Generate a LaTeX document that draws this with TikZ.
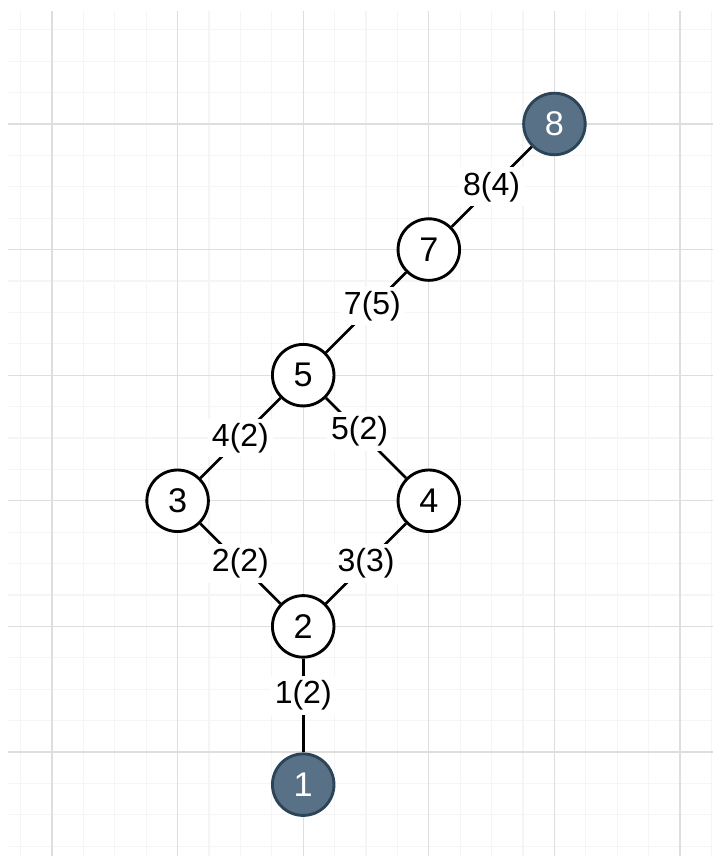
\documentclass[tikz,border=0pt]{standalone}
\usepackage{fontspec}
\setmainfont{Liberation Sans}
\usepackage{tikz}
\usetikzlibrary{positioning}
\definecolor{gridmajor}{RGB}{222,222,222}
\definecolor{gridminor}{RGB}{245,245,245}
\definecolor{slatefill}{RGB}{88,113,135}
\definecolor{slatedraw}{RGB}{44,68,88}

\begin{document}
\begin{tikzpicture}[x=2cm,y=2cm,font=\fontsize{14.5}{17}\selectfont,
vtx/.style={circle,draw=black,line width=1.3pt,fill=white,minimum size=.98cm,inner sep=0pt,font=\fontsize{15.5}{18}\selectfont},
term/.style={vtx,draw=slatedraw,fill=slatefill,text=white},
edge/.style={line width=1.2pt,draw=black},
lbl/.style={fill=white,inner sep=2pt}]

\useasboundingbox(-.414,-.828)rectangle(5.263,5.987);
\fill[white](-.414,-.828)rectangle(5.263,5.987);
% grid paper
\draw[gridminor,line width=.5pt,step=.25](-.35,-.828)grid(5.263,5.9);
\draw[gridmajor,line width=.6pt,step=1](-.35,-.828)grid(5.263,5.9);

\node[term](n1)at(2,-.26){1};
\node[vtx](n2)at(2,1){2};
\node[vtx](n3)at(1,2){3};
\node[vtx](n4)at(3,2){4};
\node[vtx](n5)at(2,3){5};
\node[vtx](n7)at(3,4){7};
\node[term](n8)at(4,5){8};

\draw[edge](n2)--node[lbl,pos=.39]{1(2)}(n1);
\draw[edge](n3)--node[lbl]{2(2)}(n2);
\draw[edge](n4)--node[lbl]{3(3)}(n2);
\draw[edge](n5)--node[lbl]{4(2)}(n3);
\draw[edge](n5)--node[lbl,pos=.42]{5(2)}(n4);
\draw[edge](n5)--node[lbl,pos=.58]{7(5)}(n7);
\draw[edge](n7)--node[lbl]{8(4)}(n8);
\end{tikzpicture}
\end{document}
